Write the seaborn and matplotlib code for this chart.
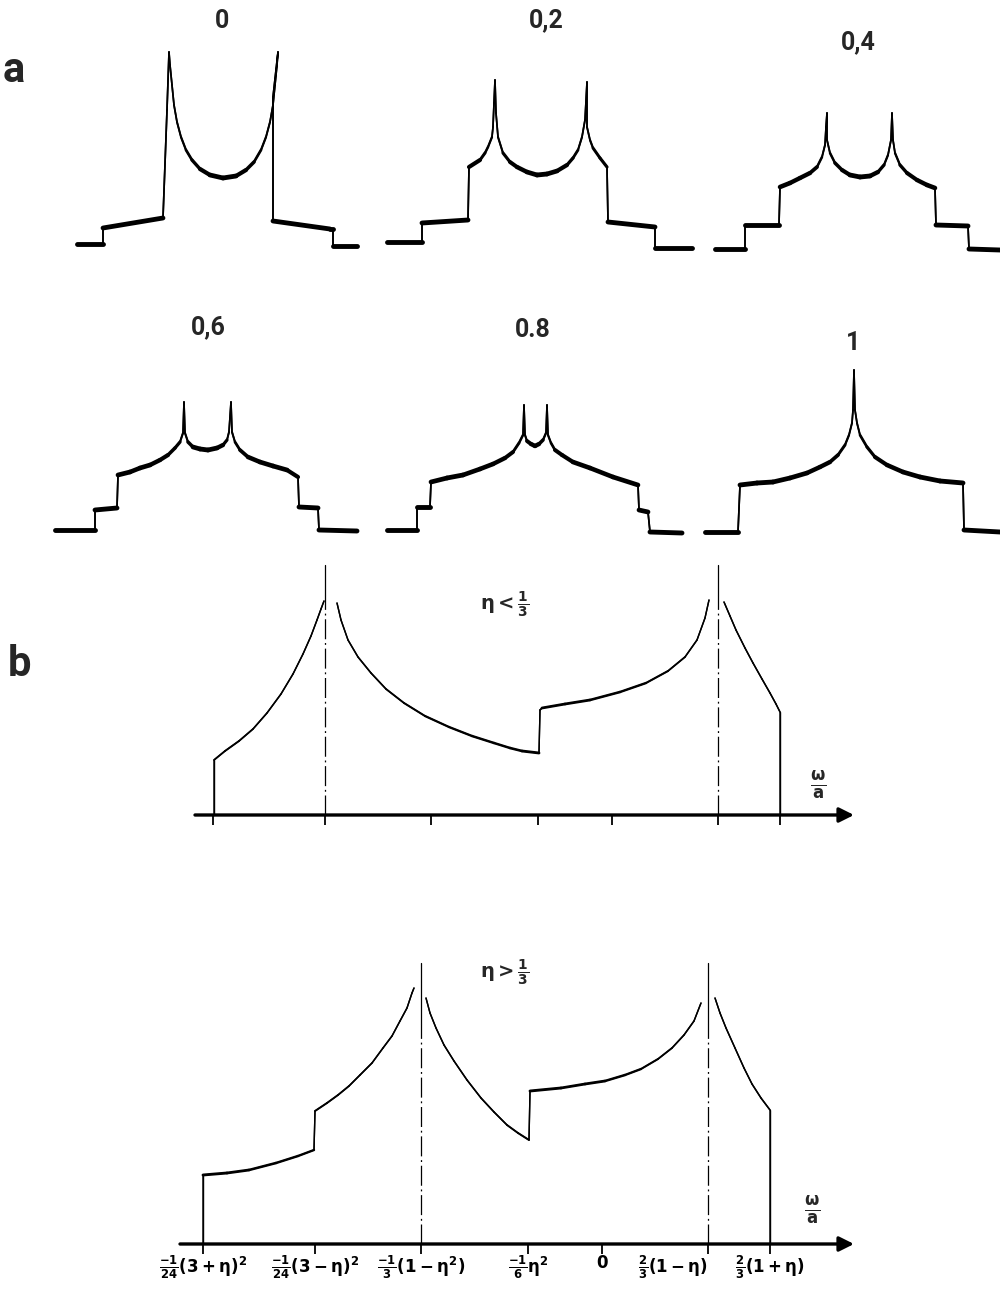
import numpy as np
import matplotlib
matplotlib.use("Agg")
import matplotlib.pyplot as plt
import seaborn as sns
from matplotlib.collections import LineCollection

# ---------------- part (a): recorded spectra, one per asymmetry value ----------------
eta_labels = ["0", "0,2", "0,4", "0,6", "0.8", "1"]

w_eta00 = [-1.46, -1.20, -1.20, -0.60, -0.56, -0.54,
           -0.53, -0.51, -0.49, -0.46, -0.42, -0.37, -0.31, -0.23, -0.13, 0.00,
           0.13, 0.23, 0.31, 0.38, 0.43, 0.47, 0.50, 0.52, 0.54, 0.55,
           0.50, 0.50, 1.07, 1.10, 1.10, 1.34]
I_eta00 = [0.01, 0.01, 0.17, 0.27, 1.35, 1.93,
           1.80, 1.60, 1.40, 1.23, 1.08, 0.95, 0.85, 0.76, 0.70, 0.67,
           0.69, 0.75, 0.83, 0.95, 1.08, 1.23, 1.40, 1.60, 1.80, 1.93,
           1.48, 0.24, 0.16, 0.16, -0.01, -0.01]

w_eta02 = [-1.54, -1.19, -1.19, -0.73, -0.72, -0.61, -0.56, -0.53, -0.49, -0.48, -0.47, -0.46,
           -0.45, -0.43, -0.38, -0.31, -0.24, -0.14, -0.04, 0.06, 0.16, 0.26, 0.32, 0.37, 0.41, 0.44, 0.46,
           0.46, 0.49, 0.52, 0.59, 0.66, 0.67, 1.14, 1.14, 1.51]
I_eta02 = [0.03, 0.03, 0.22, 0.25, 0.78, 0.85, 0.92, 0.98, 1.08, 1.18, 1.42, 1.65,
           1.32, 1.08, 0.92, 0.83, 0.78, 0.73, 0.70, 0.71, 0.74, 0.80, 0.87, 0.95, 1.08, 1.25, 1.63,
           1.18, 1.05, 0.97, 0.87, 0.78, 0.23, 0.18, -0.03, -0.03]

w_eta04 = [-1.45, -1.15, -1.15, -0.81, -0.80, -0.70, -0.60, -0.50, -0.43, -0.38, -0.35, -0.34, -0.33,
           -0.33, -0.30, -0.25, -0.18, -0.10, 0.00, 0.10, 0.18, 0.24, 0.28, 0.31, 0.32,
           0.33, 0.35, 0.40, 0.47, 0.57, 0.67, 0.75, 0.76, 1.08, 1.09, 1.40]
I_eta04 = [0.00, 0.00, 0.24, 0.24, 0.62, 0.66, 0.71, 0.76, 0.82, 0.92, 1.04, 1.22, 1.36,
           1.09, 0.96, 0.86, 0.79, 0.74, 0.72, 0.73, 0.77, 0.84, 0.94, 1.09, 1.36,
           1.09, 0.96, 0.84, 0.76, 0.69, 0.64, 0.61, 0.24, 0.23, 0.00, -0.01]

w_eta06 = [-1.53, -1.13, -1.13, -0.91, -0.90, -0.78, -0.68, -0.58, -0.48, -0.40, -0.33, -0.28, -0.25, -0.24,
           -0.23, -0.20, -0.15, -0.08, 0.00, 0.09, 0.15, 0.19, 0.21, 0.23,
           0.24, 0.27, 0.32, 0.40, 0.52, 0.65, 0.79, 0.90, 0.91, 1.10, 1.11, 1.49]
I_eta06 = [0.00, 0.00, 0.20, 0.22, 0.55, 0.58, 0.62, 0.65, 0.70, 0.75, 0.82, 0.88, 0.97, 1.28,
           0.97, 0.88, 0.83, 0.81, 0.80, 0.82, 0.85, 0.90, 0.98, 1.28,
           0.98, 0.88, 0.80, 0.73, 0.68, 0.64, 0.60, 0.53, 0.23, 0.22, 0.00, -0.01]

w_eta08 = [-1.49, -1.19, -1.19, -1.06, -1.05, -0.89, -0.73, -0.56, -0.43, -0.31, -0.23, -0.17, -0.13, -0.12,
           -0.11, -0.09, -0.05, -0.01, 0.03, 0.07, 0.10, 0.11,
           0.12, 0.15, 0.19, 0.26, 0.37, 0.54, 0.77, 1.02, 1.03, 1.12, 1.14, 1.46]
I_eta08 = [0.01, 0.01, 0.24, 0.24, 0.49, 0.53, 0.56, 0.62, 0.67, 0.73, 0.79, 0.88, 0.96, 1.26,
           0.96, 0.90, 0.87, 0.85, 0.87, 0.91, 0.98, 1.26,
           0.96, 0.88, 0.81, 0.76, 0.69, 0.63, 0.54, 0.46, 0.21, 0.19, -0.01, -0.02]

w_eta10 = [-1.49, -1.16, -1.14, -0.97, -0.81, -0.64, -0.47, -0.34, -0.24, -0.16, -0.09, -0.05, -0.02, -0.01,
           0.00, 0.01, 0.03, 0.06, 0.13, 0.21, 0.33, 0.49, 0.66, 0.86, 1.09, 1.10, 1.46]
I_eta10 = [0.00, 0.00, 0.47, 0.49, 0.50, 0.54, 0.59, 0.65, 0.70, 0.77, 0.87, 0.97, 1.09, 1.22,
           1.62, 1.22, 1.09, 0.97, 0.85, 0.75, 0.67, 0.60, 0.55, 0.51, 0.49, 0.02, 0.00]

# ---------------- part (b): schematic line shapes ----------------
omega_ticks = [-3.99, -2.87, -1.81, -0.74, 0.0, 1.06, 1.68]
omega_tick_labels = [r"$\frac{-1}{24}(3+\eta)^2$", r"$\frac{-1}{24}(3-\eta)^2$",
                     r"$\frac{-1}{3}(1-\eta^2)$", r"$\frac{-1}{6}\eta^2$", r"$0$",
                     r"$\frac{2}{3}(1-\eta)$", r"$\frac{2}{3}(1+\eta)$"]

# eta < 1/3
w_lt_a = [-3.98, -3.98, -3.87, -3.73, -3.59, -3.45, -3.31, -3.19, -3.09, -3.01, -2.95, -2.91, -2.88]
I_lt_a = [0.00, 0.55, 0.64, 0.74, 0.86, 1.02, 1.21, 1.41, 1.61, 1.79, 1.95, 2.06, 2.14]
w_lt_b = [-2.75, -2.71, -2.64, -2.54, -2.41, -2.26, -2.08, -1.87, -1.63, -1.40, -1.18, -1.02, -0.90, -0.73,
          -0.72, -0.70, -0.47, -0.22, 0.08, 0.34, 0.56, 0.73, 0.85, 0.93, 0.97]
I_lt_b = [2.12, 1.95, 1.75, 1.58, 1.42, 1.26, 1.12, 0.99, 0.88, 0.79, 0.72, 0.67, 0.64, 0.62,
          1.05, 1.07, 1.11, 1.15, 1.23, 1.32, 1.44, 1.58, 1.75, 1.97, 2.15]
w_lt_c = [1.12, 1.18, 1.24, 1.33, 1.41, 1.50, 1.58, 1.64, 1.68, 1.68]
I_lt_c = [2.13, 1.99, 1.85, 1.67, 1.52, 1.36, 1.22, 1.11, 1.03, 0.00]
sing_lt = [-2.87, 1.06]
sing_lt_height = 2.50

# eta > 1/3
w_gt_a = [-3.99, -3.99, -3.75, -3.53, -3.26, -3.04, -2.88, -2.87, -2.75, -2.64, -2.53, -2.42, -2.30,
          -2.19, -2.10, -2.02, -1.95, -1.90, -1.88]
I_gt_a = [0.00, 0.69, 0.71, 0.74, 0.81, 0.88, 0.94, 1.33, 1.41, 1.49, 1.58, 1.69, 1.81,
          1.96, 2.08, 2.23, 2.36, 2.51, 2.56]
w_gt_b = [-1.76, -1.72, -1.66, -1.58, -1.48, -1.35, -1.21, -1.08, -0.95, -0.84, -0.73,
          -0.72, -0.41, -0.17, 0.03, 0.23, 0.39, 0.56, 0.70, 0.82, 0.92, 0.99]
I_gt_b = [2.46, 2.31, 2.16, 1.99, 1.83, 1.64, 1.46, 1.32, 1.19, 1.11, 1.04,
          1.53, 1.56, 1.60, 1.63, 1.69, 1.75, 1.85, 1.96, 2.09, 2.23, 2.41]
w_gt_c = [1.13, 1.18, 1.24, 1.33, 1.42, 1.50, 1.59, 1.68, 1.68]
I_gt_c = [2.46, 2.31, 2.16, 1.96, 1.76, 1.60, 1.46, 1.34, 0.00]
sing_gt = [-1.81, 1.06]
sing_gt_height = 2.81

# ---------------- figure setup ----------------
sns.set_theme(style="white")
plt.rcParams["font.family"] = ["Roboto", "DejaVu Sans"]
plt.rcParams["mathtext.default"] = "bf"

W, H, DPI = 1000, 1289, 100
PX = 100  # pixels per data unit in every panel
fig = plt.figure(figsize=(W / DPI, H / DPI), dpi=DPI)
fig.patch.set_facecolor("white")


def add_panel(x0, y0, xlim, ylim):
    """Axes whose data origin sits at pixel (x0, y0), measured from the top-left corner."""
    left = x0 + xlim[0] * PX
    width = (xlim[1] - xlim[0]) * PX
    top = y0 - ylim[1] * PX
    height = (ylim[1] - ylim[0]) * PX
    ax = fig.add_axes([left / W, 1 - (top + height) / H, width / W, height / H])
    ax.set_xlim(*xlim)
    ax.set_ylim(*ylim)
    ax.patch.set_alpha(0)
    for s in ax.spines.values():
        s.set_visible(False)
    ax.set_yticks([])
    ax.set_xticks([])
    ax.grid(False)
    return ax


def trace(ax, w, I, lw_min, lw_gain, slope_ref):
    """Pen trace: thin on steep flanks, heavier on flat stretches."""
    sns.lineplot(x=w, y=I, ax=ax, sort=False, estimator=None, errorbar=None,
                 color="black", linewidth=lw_min)
    pts = np.column_stack([w, I]).astype(float)
    seg = np.stack([pts[:-1], pts[1:]], axis=1)
    d = np.diff(pts, axis=0)
    slope = np.abs(d[:, 1]) / np.maximum(np.abs(d[:, 0]), 1e-6)
    widths = lw_min + lw_gain / (1.0 + (slope / slope_ref) ** 2)
    ax.add_collection(LineCollection(seg, linewidths=widths, colors="black",
                                     capstyle="round", joinstyle="round"))


# ---------------- part (a) ----------------
panel_a_traces = [(w_eta00, I_eta00), (w_eta02, I_eta02), (w_eta04, I_eta04),
                  (w_eta06, I_eta06), (w_eta08, I_eta08), (w_eta10, I_eta10)]
panel_a_anchor = [(223, 245), (541, 245), (860, 249), (208, 530), (536, 531), (854, 532)]
panel_a_label_xy = [(-0.01, 2.24), (0.05, 2.25), (-0.02, 2.07), (0.0, 2.03), (-0.03, 2.01), (-0.01, 1.89)]

for (w, I), (x0, y0), lab, (lx, ly) in zip(panel_a_traces, panel_a_anchor, eta_labels, panel_a_label_xy):
    ax = add_panel(x0, y0, (-1.6, 1.6), (-0.15, 2.1))
    trace(ax, w, I, lw_min=1.2, lw_gain=2.3, slope_ref=1.2)
    ax.text(lx, ly, lab, ha="center", va="center", fontsize=18, fontweight="bold")

fig.text(14 / W, 1 - 70 / H, "a", ha="center", va="center", fontsize=30, fontweight="bold")
fig.text(20 / W, 1 - 665 / H, "b", ha="center", va="center", fontsize=30, fontweight="bold")


# ---------------- part (b) ----------------
def schematic(x0, y0, segments, sing, sing_h, title, title_xy, axis_span, label_xy, show_labels):
    ax = add_panel(x0, y0, (-4.45, 2.7), (-0.4, 2.95))
    for w, I in segments:
        trace(ax, w, I, lw_min=1.0, lw_gain=1.1, slope_ref=0.5)
    for xs in sing:
        ax.plot([xs, xs], [2.2, sing_h], color="black", lw=0.9)
        ax.plot([xs, xs], [0, 2.2], color="black", lw=0.9, linestyle=(0, (16, 3, 1.5, 3)))
    ax.annotate("", xy=(axis_span[1], 0), xytext=(axis_span[0], 0),
                arrowprops=dict(arrowstyle="-|>", color="black", lw=2.4,
                                mutation_scale=22, shrinkA=0, shrinkB=0))
    ax.spines["bottom"].set_visible(True)
    ax.spines["bottom"].set_position(("data", 0))
    ax.spines["bottom"].set_color("none")
    ax.set_xticks(omega_ticks)
    if show_labels:
        ax.set_xticklabels(omega_tick_labels)
        for t, ha in zip(ax.get_xticklabels(), ["center"] * 5 + ["right", "center"]):
            t.set_horizontalalignment(ha)
    else:
        ax.set_xticklabels([])
    ax.tick_params(axis="x", bottom=True, direction="out", length=7, width=1.3,
                   color="black", pad=0, labelsize=12, labelcolor="black")
    ax.text(*title_xy, title, ha="center", va="center", fontsize=14)
    ax.text(*label_xy, r"$\frac{\omega}{a}$", ha="center", va="center", fontsize=17)
    return ax


schematic(612, 815, [(w_lt_a, I_lt_a), (w_lt_b, I_lt_b), (w_lt_c, I_lt_c)],
          sing_lt, sing_lt_height, r"$\eta<\frac{1}{3}$", (-1.07, 2.10),
          (-4.17, 2.42), (2.06, 0.30), show_labels=False)
schematic(602, 1244, [(w_gt_a, I_gt_a), (w_gt_b, I_gt_b), (w_gt_c, I_gt_c)],
          sing_gt, sing_gt_height, r"$\eta>\frac{1}{3}$", (-0.97, 2.71),
          (-4.22, 2.52), (2.10, 0.34), show_labels=True)

fig.savefig("out.png", dpi=DPI, facecolor="white")
